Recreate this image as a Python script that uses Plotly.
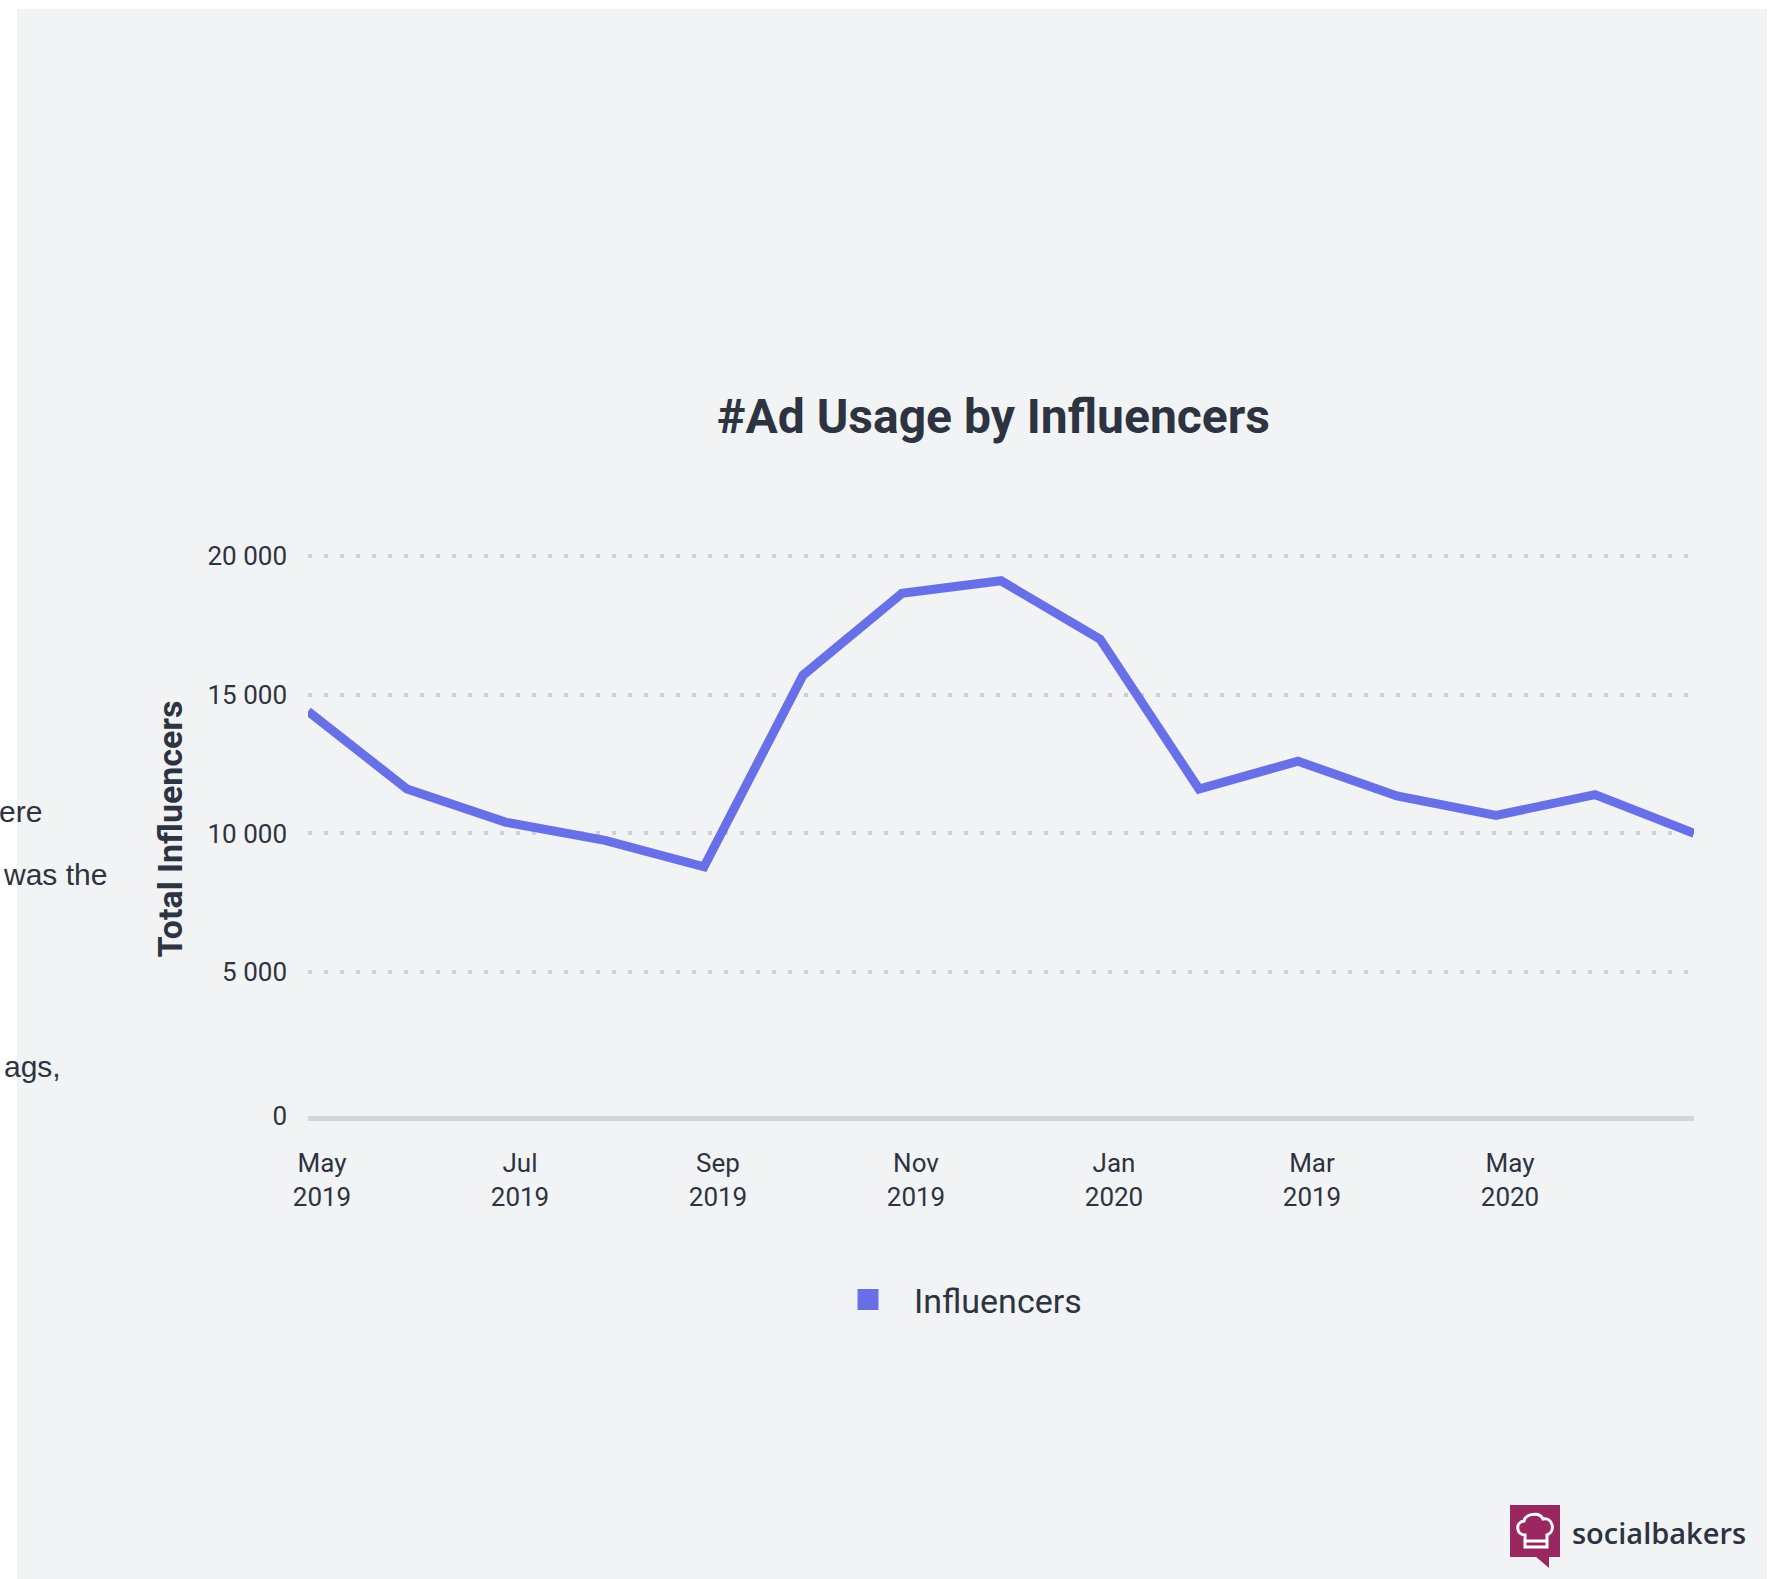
import plotly.graph_objects as go

# ---------------- data ----------------
months = ["2019-05", "2019-06", "2019-07", "2019-08", "2019-09", "2019-10", "2019-11",
          "2019-12", "2020-01", "2020-02", "2020-03", "2020-04", "2020-05", "2020-06", "2020-07"]
influencers = [14400, 11600, 10400, 9750, 8800, 15700, 18650, 19100, 17000,
               11600, 12600, 11350, 10650, 11400, 10000]
x_tick_months = ["2019-05", "2019-07", "2019-09", "2019-11", "2020-01", "2020-03", "2020-05"]
x_tick_labels = ["May<br>2019", "Jul<br>2019", "Sep<br>2019", "Nov<br>2019",
                 "Jan<br>2020", "Mar<br>2019", "May<br>2020"]
y_min, y_max = -178, 20497
y_tick_values = [y_min, 5000, 10000, 15000, 20000]
y_tick_labels = ["0", "5 000", "10 000", "15 000", "20 000"]
series_name = "Influencers"
side_text = ["ere", "was the", "ags,"]

# ---------------- style ----------------
W, H = 1777, 1579
L, R, T, B = 308, 83, 542, 463
PW, PH = W - L - R, H - T - B
LINE = "#6870E8"
TEXT = "#2D3340"
PANEL = "#F2F3F5"
GRID = "#CFD0D8"


def px(x):
    return (x - L) / PW


def py(y):
    return (H - B - y) / PH


fig = go.Figure()
fig.add_trace(go.Scatter(
    x=months, y=influencers, mode="lines",
    line=dict(color=LINE, width=9),
    showlegend=False, cliponaxis=False, hoverinfo="x+y",
))
fig.add_trace(go.Scatter(
    x=[None], y=[None], mode="markers", name=series_name,
    marker=dict(symbol="square", size=16, color=LINE, line=dict(color=LINE, width=5)),
))

shapes = [
    dict(type="rect", xref="paper", yref="paper", layer="below",
         x0=px(17), x1=px(1767), y0=py(1600), y1=py(9),
         fillcolor=PANEL, line=dict(width=0)),
    # logo
    dict(type="rect", xref="paper", yref="paper",
         x0=px(1510), x1=px(1560), y0=py(1557), y1=py(1505),
         fillcolor="#9B2761", line=dict(width=0)),
    dict(type="path", xref="paper", yref="paper",
         path=f"M{px(1535)},{py(1556)} L{px(1549)},{py(1556)} L{px(1549)},{py(1568)} Z",
         fillcolor="#9B2761", line=dict(width=0)),
    dict(type="path", xref="paper", yref="paper",
         path=(f"M{px(1525)},{py(1547)} L{px(1525)},{py(1535)} "
               f"C{px(1516)},{py(1535)} {px(1515)},{py(1522)} {px(1524)},{py(1521)} "
               f"C{px(1526)},{py(1513)} {px(1540)},{py(1512)} {px(1543)},{py(1519)} "
               f"C{px(1553)},{py(1517)} {px(1556)},{py(1532)} {px(1547)},{py(1535)} "
               f"L{px(1547)},{py(1547)} Z"),
         line=dict(color="white", width=3)),
    dict(type="line", xref="paper", yref="paper",
         x0=px(1525), x1=px(1547), y0=py(1541), y1=py(1541),
         line=dict(color="white", width=3)),
]

annotations = [
    dict(text=side_text[0], x=px(44), y=py(811), xref="paper", yref="paper",
         xanchor="right", yanchor="middle", showarrow=False,
         font=dict(family="Liberation Sans", size=30, color=TEXT)),
    dict(text=side_text[1], x=px(109), y=py(874), xref="paper", yref="paper",
         xanchor="right", yanchor="middle", showarrow=False,
         font=dict(family="Liberation Sans", size=30, color=TEXT)),
    dict(text=side_text[2], x=px(63), y=py(1066), xref="paper", yref="paper",
         xanchor="right", yanchor="middle", showarrow=False,
         font=dict(family="Liberation Sans", size=30, color=TEXT)),
    dict(text="socialbakers", x=px(1570), y=py(1532), xref="paper", yref="paper",
         xanchor="left", yanchor="middle", showarrow=False,
         font=dict(family="Open Sans", size=29, color=TEXT, weight=600)),
]

fig.update_layout(
    width=W, height=H,
    margin=dict(l=L, r=R, t=T, b=B, pad=0),
    paper_bgcolor="white", plot_bgcolor="rgba(0,0,0,0)",
    font=dict(family="Roboto", color=TEXT),
    title=dict(text="#Ad Usage by Influencers", x=px(993.5), xref="paper", xanchor="center",
               y=1 - 416 / H, yref="container", yanchor="middle",
               font=dict(family="Roboto", size=48, color=TEXT, weight="bold")),
    xaxis=dict(type="category", categoryorder="array", categoryarray=months,
               range=[0, len(months) - 1], tickvals=x_tick_months, ticktext=x_tick_labels,
               showgrid=False, zeroline=False, showline=True, linecolor="#D3D5DC", linewidth=5,
               ticks="", tickfont=dict(family="Roboto", size=26, color=TEXT),
               ticklabelshift=14, ticklabelstandoff=20, fixedrange=True),
    yaxis=dict(range=[y_min, y_max], tickvals=y_tick_values, ticktext=y_tick_labels,
               showgrid=True, gridcolor=GRID, gridwidth=4, griddash="4px,12px",
               zeroline=False, showline=False, ticks="",
               tickfont=dict(family="Roboto", size=26, color=TEXT),
               ticklabelstandoff=20,
               title=dict(text="Total Influencers", standoff=14,
                          font=dict(family="Roboto", size=34, color=TEXT, weight="bold")),
               fixedrange=True),
    legend=dict(orientation="h", x=px(822), y=py(1300), xanchor="left", yanchor="middle",
                font=dict(family="Roboto", size=34, color=TEXT), bgcolor="rgba(0,0,0,0)",
                itemwidth=82),
    shapes=shapes, annotations=annotations,
    showlegend=True,
)

fig.write_html("out.html", config={"displayModeBar": False})
